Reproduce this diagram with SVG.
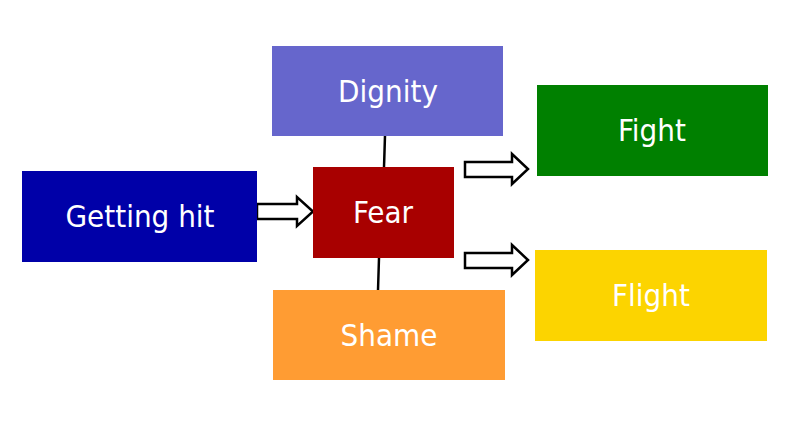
<svg xmlns="http://www.w3.org/2000/svg" width="800" height="428" viewBox="0 0 800 428">
<style>
text{font-family:"DejaVu Sans Condensed","Liberation Sans Narrow","DejaVu Sans",sans-serif;font-stretch:condensed;fill:#fff;font-size:31px;text-anchor:middle;dominant-baseline:central}
.ln{stroke:#000;stroke-width:2.5;fill:none}
.ar{fill:#fff;stroke:#000;stroke-width:2.5;stroke-linejoin:miter}
</style>
<rect width="800" height="428" fill="#fff"/>
<g id="connectors">
<line class="ln" x1="385" y1="136" x2="384" y2="167"/>
<line class="ln" x1="379" y1="258" x2="378" y2="290"/>
<polygon class="ar" points="257,204 297,204 297,197 313,211.5 297,226 297,219 257,219"/>
<polygon class="ar" points="465,162 512,162 512,154 528,169 512,184 512,177 465,177"/>
<polygon class="ar" points="465,253 512,253 512,245 528,260 512,275 512,268 465,268"/>
</g>
<g id="getting-hit"><rect x="22" y="171" width="235" height="91" fill="#0000a8"/><text x="140" y="216">Getting hit</text></g>
<g id="dignity"><rect x="272" y="46" width="231" height="90" fill="#6666cc"/><text x="388" y="91">Dignity</text></g>
<g id="fear"><rect x="313" y="167" width="141" height="91" fill="#a80000"/><text x="383" y="212">Fear</text></g>
<g id="shame"><rect x="273" y="290" width="232" height="90" fill="#ff9c33"/><text x="389" y="335">Shame</text></g>
<g id="fight"><rect x="537" y="85" width="231" height="91" fill="#008000"/><text x="652" y="130">Fight</text></g>
<g id="flight"><rect x="535" y="250" width="232" height="91" fill="#fcd400"/><text x="651" y="295">Flight</text></g>
</svg>
